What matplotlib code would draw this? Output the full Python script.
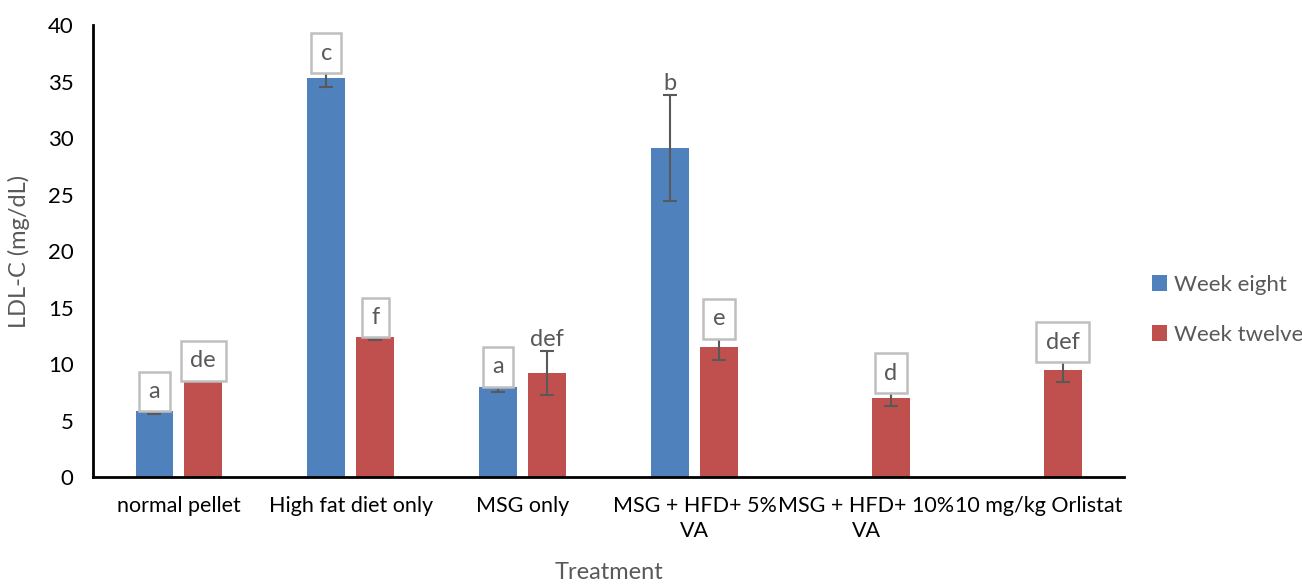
import numpy as np
import matplotlib
matplotlib.use("Agg")
import matplotlib.pyplot as plt

# data
tratamientos = ["normal pellet", "High fat diet only", "MSG only",
                "MSG + HFD+ 5%\nVA", "MSG + HFD+ 10%\nVA", "10 mg/kg Orlistat"]
semana8 = [5.85, 35.3, 7.95, 29.1, np.nan, np.nan]
semana8_err = [0.3, 0.8, 0.4, 4.7, np.nan, np.nan]
semana12 = [8.75, 12.4, 9.2, 11.5, 7.0, 9.45]
semana12_err = [0.1, 0.3, 1.95, 1.1, 0.75, 1.05]
letras8 = ["a", "c", "a", "b", "", ""]
letras12 = ["de", "f", "def", "e", "d", "def"]
caja8 = [True, True, True, False, False, False]
caja12 = [True, True, False, True, True, True]

azul = "#4F81BD"
rojo = "#C0504D"
gris = "#595959"

plt.rcParams['font.family'] = ['Lato', 'DejaVu Sans']

fig = plt.figure(figsize=(13.02, 5.86), dpi=100)
ax = fig.add_axes([0.0714, 0.186, 0.792, 0.771])

x = np.arange(len(tratamientos))
ancho = 0.22
desp = 0.142

ax.bar(x - desp, semana8, ancho, color=azul, label="Week eight", zorder=2)
ax.bar(x + desp, semana12, ancho, color=rojo, label="Week twelve", zorder=2)
ax.errorbar(x - desp, semana8, yerr=semana8_err, fmt="none", ecolor=gris,
            elinewidth=1.5, capsize=5, capthick=1.5, zorder=3)
ax.errorbar(x + desp, semana12, yerr=semana12_err, fmt="none", ecolor=gris,
            elinewidth=1.5, capsize=5, capthick=1.5, zorder=3)


def poner_letras(xs, vals, errs, letras, cajas):
    for xi, v, e, l, c in zip(xs, vals, errs, letras, cajas):
        if not l:
            continue
        caja = None
        if c:
            caja = dict(boxstyle="square,pad=0.4", fc="white", ec="#BFBFBF", lw=1.8)
        ax.annotate(l, xy=(xi, v + e), xytext=(0, 4 if c else 1),
                    textcoords="offset points", ha="center", va="bottom",
                    fontsize=17, color=gris, bbox=caja, zorder=4)


poner_letras(x - desp, semana8, semana8_err, letras8, caja8)
poner_letras(x + desp, semana12, semana12_err, letras12, caja12)

ax.set_xlim(-0.5, len(tratamientos) - 0.5)
ax.set_ylim(0, 40)
ax.set_yticks(range(0, 41, 5))
ax.set_xticks(x)
ax.set_xticklabels(tratamientos, fontsize=15.5, linespacing=1.3)
ax.tick_params(axis="y", labelsize=16, length=0, pad=14)
ax.tick_params(axis="x", length=0, pad=14)

for lado in ["top", "right"]:
    ax.spines[lado].set_visible(False)
for lado in ["left", "bottom"]:
    ax.spines[lado].set_linewidth(2)
    ax.spines[lado].set_color("black")

ax.set_ylabel("LDL-C (mg/dL)", fontsize=17, color=gris, labelpad=13)
ax.set_xlabel("Treatment", fontsize=17, color=gris, labelpad=15)

leg = ax.legend(loc="center left", bbox_to_anchor=(1.008, 0.37), frameon=False,
                fontsize=16, handlelength=0.65, handleheight=0.75,
                handletextpad=0.3, labelspacing=1.35)
for t in leg.get_texts():
    t.set_color(gris)

fig.savefig("out.png", dpi=100)
